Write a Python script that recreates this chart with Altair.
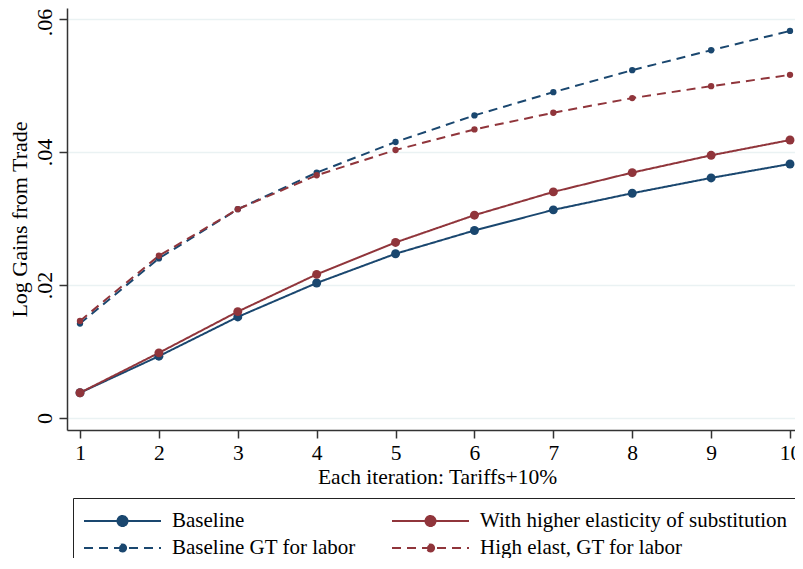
import altair as alt
import pandas as pd

iterations = list(range(1, 11))
baseline = [0.0038, 0.0093, 0.0152, 0.0203, 0.0247, 0.0282, 0.0313, 0.0338, 0.0361, 0.0382]
high_elast = [0.0038, 0.0098, 0.0160, 0.0216, 0.0264, 0.0305, 0.0340, 0.0369, 0.0395, 0.0418]
baseline_gt = [0.0142, 0.0240, 0.0314, 0.0369, 0.0415, 0.0455, 0.0490, 0.0523, 0.0553, 0.0582]
high_elast_gt = [0.0146, 0.0244, 0.0314, 0.0365, 0.0403, 0.0434, 0.0459, 0.0481, 0.0499, 0.0516]

series_names = [
    "Baseline",
    "Baseline GT for labor",
    "With higher elasticity of substitution",
    "High elast, GT for labor",
]
series_values = [baseline, baseline_gt, high_elast, high_elast_gt]
series_colors = ["#1a476f", "#1a476f", "#90353b", "#90353b"]
series_dashes = [[1, 0], [9, 6], [1, 0], [9, 6]]
solid_series = [series_names[0], series_names[2]]
dashed_series = [series_names[1], series_names[3]]
y_ticks = [0, 0.02, 0.04, 0.06]

rows = []
for name, vals in zip(series_names, series_values):
    for it, v in zip(iterations, vals):
        rows.append({"iteration": it, "gain": v, "series": name})
df = pd.DataFrame(rows)

FONT = "Liberation Serif"
FS = 21.5
HALF = 38.5  # half-length of the legend key line in px


def key_path(radius_px):
    r = radius_px / HALF
    return (f"M-1,0H1M{r:.4f},0A{r:.4f},{r:.4f},0,1,1,{-r:.4f},0"
            f"A{r:.4f},{r:.4f},0,1,1,{r:.4f},0Z")


big_key = key_path(5)
small_key = key_path(3.6)

legend = alt.Legend(
    title=None,
    orient="none",
    legendX=6,
    legendY=490,
    columns=2,
    symbolType=alt.ExprRef(expr=f"indexof(datum.value, 'GT') >= 0 ? '{small_key}' : '{big_key}'"),
    symbolFillColor=alt.ExprRef(expr="scale('color', datum.value)"),
    symbolSize=(2 * HALF) ** 2,
    symbolStrokeWidth=2,
    clipHeight=26,
    rowPadding=1,
    columnPadding=35,
    labelOffset=10,
    labelFont=FONT,
    labelFontSize=21,
    labelColor="black",
    labelLimit=500,
    padding=10,
    strokeColor="#222222",
)

x_enc = alt.X(
    "iteration:Q",
    scale=alt.Scale(domain=[0.8352, 10.0634], nice=False, zero=False),
    axis=alt.Axis(
        values=iterations,
        title="Each iteration: Tariffs+10%",
        grid=False,
        labelPadding=4,
        titlePadding=3,
        titleX=370,
        titleAlign="center",
        labelFlush=False,
        labelFontSize=FS,
        titleFontSize=FS,
    ),
)
y_enc = alt.Y(
    "gain:Q",
    scale=alt.Scale(domain=[-0.0018, 0.06165], nice=False, zero=False),
    axis=alt.Axis(
        values=y_ticks,
        labelExpr="datum.value == 0 ? '0' : replace(format(datum.value, '.2f'), '0.', '.')",
        labelAngle=270,
        labelAlign="center",
        labelBaseline="bottom",
        labelOffset=alt.ExprRef(expr="datum.value > 0.05 ? 3 : 0"),
        labelPadding=3,
        labelFontSize=22,
        titleFontSize=22,
        title="Log Gains from Trade",
        titlePadding=2,
        grid=True,
        gridColor="#eaf2f3",
        gridWidth=1.5,
        labelFlush=False,
    ),
)
color_enc = alt.Color(
    "series:N",
    scale=alt.Scale(domain=series_names, range=series_colors),
    legend=legend,
)
dash_enc = alt.StrokeDash(
    "series:N",
    scale=alt.Scale(domain=series_names, range=series_dashes),
    legend=legend,
)

base = alt.Chart(df)

lines = base.mark_line(strokeWidth=2).encode(x=x_enc, y=y_enc, color=color_enc, strokeDash=dash_enc)

big_points = base.transform_filter(
    alt.FieldOneOfPredicate(field="series", oneOf=solid_series)
).mark_circle(size=80, opacity=1).encode(x=x_enc, y=y_enc, color=color_enc)

small_points = base.transform_filter(
    alt.FieldOneOfPredicate(field="series", oneOf=dashed_series)
).mark_circle(size=40, opacity=1).encode(x=x_enc, y=y_enc, color=color_enc)

chart = alt.layer(lines, big_points, small_points).properties(
    width=728,
    height=422,
    autosize=alt.AutoSizeParams(type="none"),
    padding={"left": 59, "top": 0, "right": 0, "bottom": 128},
).configure(
    font=FONT,
).configure_view(
    stroke=None,
).configure_axis(
    labelFont=FONT,
    titleFont=FONT,
    titleFontWeight="normal",
    labelColor="black",
    titleColor="black",
    domainColor="#333333",
    domainWidth=1.5,
    tickColor="#333333",
    tickWidth=1.5,
    tickSize=8,
)

chart.save("out.html", embed_options={"renderer": "svg", "actions": False})
